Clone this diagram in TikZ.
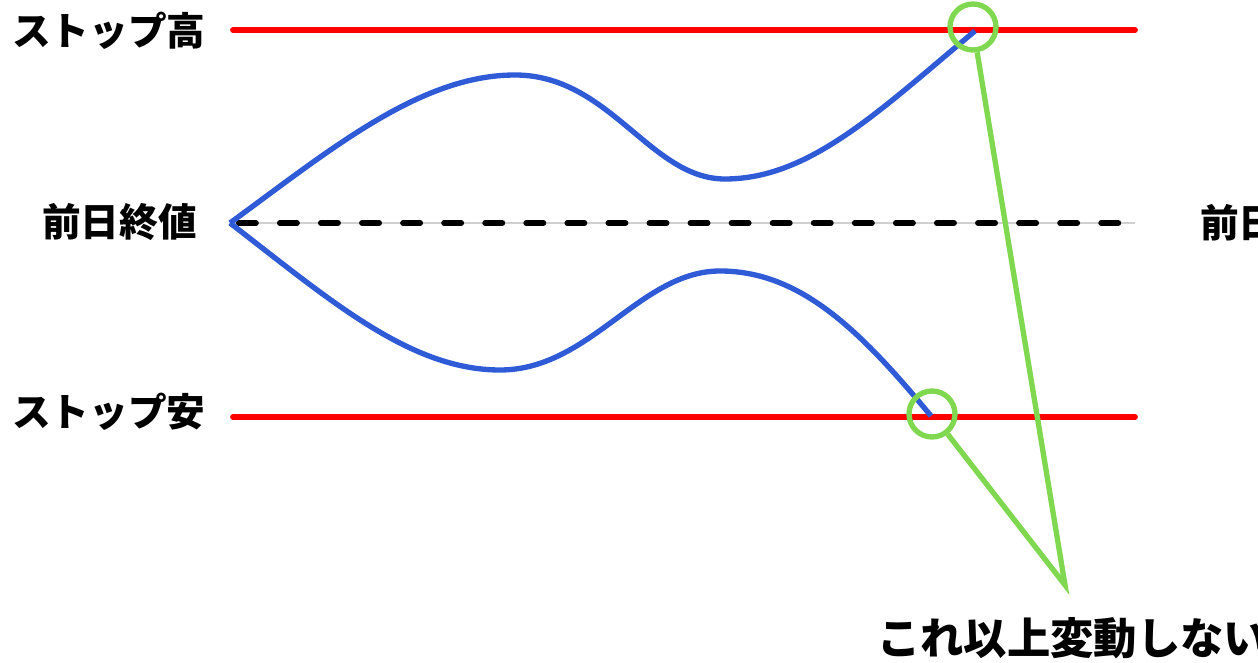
\documentclass[tikz,border=0pt]{standalone}
\usepackage{fontspec}
\usepackage{tikz}
\usetikzlibrary{positioning}
\newfontfamily\jpfont{Noto Sans CJK JP}
\definecolor{LimitRed}{HTML}{FF0000}
\definecolor{PathBlue}{HTML}{2F5BD6}
\definecolor{MarkGreen}{HTML}{7FD84F}
\definecolor{BaseGray}{HTML}{D0D0D0}

\begin{document}
\begin{tikzpicture}[x=0.75pt, y=-0.75pt, every node/.style={font=\jpfont\bfseries\fontsize{29}{31}\selectfont, inner sep=0pt}]
    \useasboundingbox (0,0) rectangle (1258,663);

    % limit lines and the previous close
    \coordinate (hiL) at (233,30);
    \coordinate (hiR) at (1135,30);
    \coordinate (loL) at (233,417);
    \coordinate (loR) at (1135,417);
    \coordinate (midL) at (232,223);
    \coordinate (midR) at (1135,223);
    \draw[LimitRed, line width=4.4pt, line cap=round] (hiL) -- (hiR);
    \draw[LimitRed, line width=4.4pt, line cap=round] (loL) -- (loR);
    \draw[BaseGray, line width=0.9pt] (midL) -- (midR);
    \draw[black, line width=4.2pt, line cap=round, dash pattern=on 13pt off 17.8pt, dash phase=-5pt] (midL) -- (midR);

    \node[anchor=west] (hilabel) at (12,31) {ストップ高};
    \node[anchor=east] (midlabel) at (197,222) {前日終値};
    \node[anchor=west] (lolabel) at (12,412) {ストップ安};
    \node[anchor=west] (midlabelR) at (1200,223) {前日終値};

    % price paths
    \coordinate (start) at (230,223);
    \coordinate (hiend) at (975,31);
    \coordinate (loend) at (931,416);
    \draw[PathBlue, line width=4pt] (start) .. controls (330,150) and (420,75) .. (515,75)
        .. controls (610,75) and (650,179) .. (725,179)
        .. controls (810,179) and (880,110) .. (hiend);
    \draw[PathBlue, line width=4pt] (start) .. controls (330,300) and (410,370) .. (500,370)
        .. controls (590,370) and (640,271) .. (720,271)
        .. controls (800,271) and (860,330) .. (loend);

    % marks
    \node[draw=MarkGreen, line width=4pt, circle, minimum size=34.5pt] (hicirc) at (973,27) {};
    \node[draw=MarkGreen, line width=4pt, circle, minimum size=34.5pt] (locirc) at (932,414) {};
    \coordinate (apex) at (1065,585);
    \draw[MarkGreen, line width=4pt, line join=miter] (hicirc) -- (apex) -- (locirc);
    \node[anchor=west, font=\jpfont\bfseries\fontsize{32.5}{34}\selectfont] (note) at (877,638) {これ以上変動しない};
  \end{tikzpicture}
\end{document}
